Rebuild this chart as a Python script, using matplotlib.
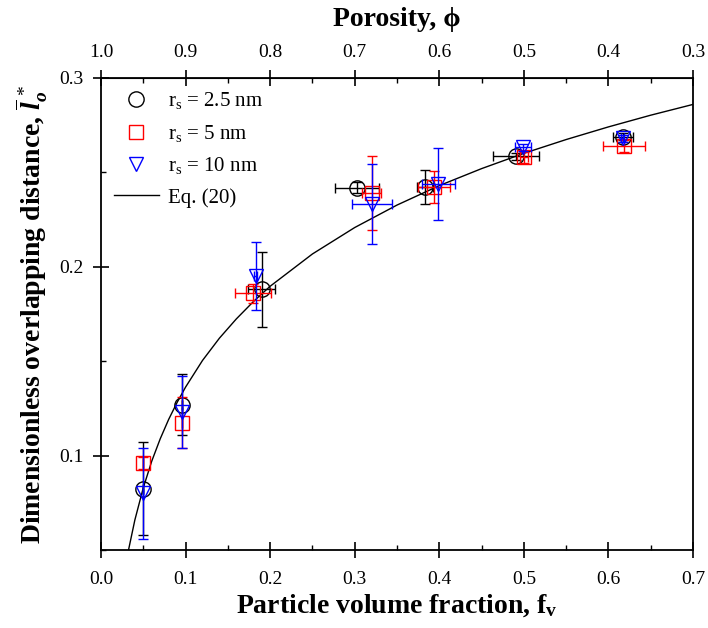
import matplotlib
matplotlib.use("Agg")
import matplotlib.pyplot as plt
from matplotlib.lines import Line2D
from matplotlib.ticker import MultipleLocator

plt.rcParams['font.family'] = ['Liberation Serif', 'DejaVu Serif']
plt.rcParams['mathtext.fontset'] = 'custom'
plt.rcParams['mathtext.rm'] = 'Liberation Serif'
plt.rcParams['mathtext.it'] = 'Liberation Serif:italic:bold'
plt.rcParams['mathtext.bf'] = 'Liberation Serif:bold'

# r_s = 2.5 nm
fv_25 = [0.050, 0.096, 0.190, 0.303, 0.383, 0.491, 0.617]
l_25 = [0.0825, 0.127, 0.188, 0.242, 0.2425, 0.2585, 0.269]
yerr_25 = [0.0245, 0.016, 0.020, 0.003, 0.009, 0.002, 0.002]
xerr_25 = [0.0, 0.0, 0.016, 0.026, 0.009, 0.027, 0.012]

# r_s = 5 nm
fv_5 = [0.050, 0.096, 0.180, 0.320, 0.394, 0.500, 0.618]
l_5 = [0.096, 0.1175, 0.186, 0.2393, 0.2425, 0.258, 0.264]
yerr_5 = [0.003, 0.0135, 0.005, 0.0196, 0.0085, 0.003, 0.003]
xerr_5 = [0.0, 0.0, 0.0215, 0.011, 0.019, 0.005, 0.025]

# r_s = 10 nm
fv_10 = [0.050, 0.096, 0.183, 0.320, 0.399, 0.499, 0.617]
l_10 = [0.080, 0.123, 0.195, 0.2333, 0.2437, 0.2633, 0.268]
yerr_10 = [0.024, 0.019, 0.018, 0.021, 0.019, 0.002, 0.002]
xerr_10 = [0.0, 0.0, 0.002, 0.0236, 0.0197, 0.010, 0.002]

# Eq. (20) curve
eq_fv = [0.0325, 0.04, 0.05, 0.06, 0.07, 0.08, 0.09, 0.10, 0.12, 0.14, 0.16,
         0.18, 0.20, 0.25, 0.30, 0.35, 0.40, 0.45, 0.50, 0.55, 0.60, 0.65, 0.70]
eq_l = [0.050, 0.0659, 0.0830, 0.0971, 0.1089, 0.1192, 0.1282, 0.1363, 0.1504,
        0.1622, 0.1724, 0.1815, 0.1897, 0.2068, 0.2208, 0.2327, 0.2430, 0.2520,
        0.2601, 0.2674, 0.2741, 0.2803, 0.2860]

top_ticks = [1.0, 0.9, 0.8, 0.7, 0.6, 0.5, 0.4, 0.3]

fig = plt.figure(figsize=(7.08, 6.28), dpi=100)
ax = fig.add_axes([0.1427, 0.1242, 0.8361, 0.7516])

ax.plot(eq_fv, eq_l, color='black', lw=1.0, zorder=2)

ebkw = dict(linestyle='none', capsize=3.5, elinewidth=1.0, capthick=1.0,
            markerfacecolor='none', markeredgewidth=1.0)
ax.errorbar(fv_25, l_25, yerr=yerr_25, xerr=xerr_25, marker='o', markersize=11,
            color='black', ecolor='black', markeredgecolor='black', zorder=3, **ebkw)
ax.errorbar(fv_5, l_5, yerr=yerr_5, xerr=xerr_5, marker='s', markersize=9.5,
            color='red', ecolor='red', markeredgecolor='red', zorder=4, **ebkw)
ax.errorbar(fv_10, l_10, yerr=yerr_10, xerr=xerr_10, marker='v', markersize=10.5,
            color='blue', ecolor='blue', markeredgecolor='blue', zorder=5, **ebkw)

ax.set_xlim(0.0, 0.7)
ax.set_ylim(0.05, 0.3)
ax.xaxis.set_minor_locator(MultipleLocator(0.05))
ax.yaxis.set_minor_locator(MultipleLocator(0.05))
ax.set_xticks([0.0, 0.1, 0.2, 0.3, 0.4, 0.5, 0.6, 0.7])
ax.set_xticklabels(['0.0', '0.1', '0.2', '0.3', '0.4', '0.5', '0.6', '0.7'])
ax.set_yticks([0.1, 0.2, 0.3])
ax.set_yticklabels(['0.1', '0.2', '0.3'])
ax.tick_params(which='major', direction='inout', length=12, width=1.2, labelsize=14, pad=9.3)
ax.tick_params(which='minor', direction='in', length=3.5, width=1.0)
ax.tick_params(axis='y', which='major', pad=6.3)
ax.tick_params(axis='y', which='both', right=False)
for s in ax.spines.values():
    s.set_linewidth(1.3)

ax.set_xlabel('Particle volume fraction, f$_\\mathbf{v}$', fontsize=20,
              fontweight='bold', labelpad=3)
ax.set_ylabel('Dimensionless overlapping distance, $\\overline{l}^{\\,*}_{o}$',
              fontsize=20, fontweight='bold', labelpad=7)

sec = ax.secondary_xaxis('top', functions=(lambda x: 1 - x, lambda p: 1 - p))
sec.set_xticks(top_ticks)
sec.set_xticklabels(['%.1f' % t for t in top_ticks])
sec.xaxis.set_minor_locator(MultipleLocator(0.05))
sec.tick_params(which='major', direction='inout', length=12, width=1.2, labelsize=14, pad=5.9)
sec.tick_params(which='minor', direction='in', length=3.5, width=1.0)
sec.set_xlabel('Porosity, ϕ', fontsize=20, fontweight='bold', labelpad=13)

handles = [
    Line2D([], [], marker='o', color='black', markerfacecolor='none', linestyle='none', markersize=11),
    Line2D([], [], marker='s', color='red', markerfacecolor='none', linestyle='none', markersize=9.5),
    Line2D([], [], marker='v', color='blue', markerfacecolor='none', linestyle='none', markersize=10.5),
    Line2D([], [], color='black', lw=1.0),
]
labels = ['r$_\\mathregular{s}$ = 2.5 nm', 'r$_\\mathregular{s}$ = 5 nm',
          'r$_\\mathregular{s}$ = 10 nm', 'Eq. (20)']
ax.legend(handles, labels, loc='upper left', frameon=False, fontsize=15,
          handlelength=2.2, handletextpad=0.4, borderaxespad=0.2, labelspacing=0.55)

fig.savefig('out.png', dpi=100)
